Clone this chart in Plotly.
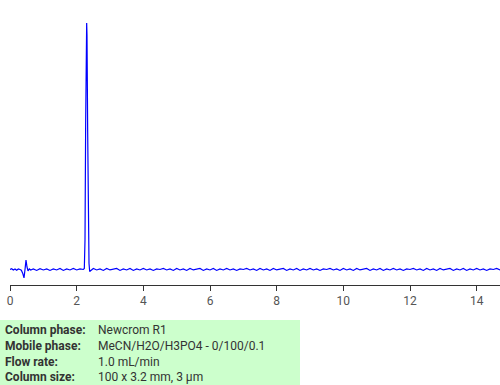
import plotly.graph_objects as go

# ---- data (retention time in min, detector signal in arbitrary units) ----
t_start = [0.00, 0.05, 0.10, 0.15, 0.20, 0.25, 0.30,
           0.34, 0.38, 0.42, 0.45, 0.48, 0.51, 0.54, 0.58, 0.62,
           0.7, 0.8, 0.9, 1.0, 1.1, 1.2, 1.3, 1.4, 1.5, 1.6, 1.7, 1.8, 1.9, 2.0, 2.1, 2.2]
y_start = [0, 3, -2, 2, -3, 2, 0,
           -3, -15, -34, 0, 38, 10, -6, 2, -2,
           2, -4, 3, -2, 2, -4, 2, -2, 4, -4, 2, -2, 4, -2, 2, 0]

t_peak = [2.23, 2.25, 2.27, 2.29, 2.30, 2.31, 2.33, 2.35, 2.37, 2.39, 2.42, 2.46]
y_peak = [4, 120, 600, 980, 1000, 950, 560, 160, 25, -8, -5, 0]

t_tail = [round(2.5 + 0.1 * i, 2) for i in range(123)]
y_tail = [4, -2, 2, -4, 4, -2, 0, 4, -4, 2, -2, 4, -4, 2, -2, 4, -2, 2, -4, 2,
          0, 4, -2, 2, -4, 4, -2, 2, -4, 4, -2, 0, 4, -4, 2, -2, 4, -4, 2, -2,
          4, -2, 2, -4, 2, 0, 4, -2, 2, -4, 4, -2, 2, -4, 4, -2, 0, 4, -4, 2,
          -2, 4, -4, 2, -2, 4, -2, 2, -4, 2, 0, 4, -2, 2, -4, 4, -2, 2, -4, 4,
          -2, 0, 4, -4, 2, -2, 4, -4, 2, -2, 4, -2, 2, -4, 2, 0, 4, -2, 2, -4,
          4, -2, 2, -4, 4, -2, 0, 4, -4, 2, -2, 4, -4, 2, -2, 4, -2, 2, -4, 2,
          0, 4, -2]

x_ticks = [0, 2, 4, 6, 8, 10, 12, 14]

info_labels = ["Column phase:", "Mobile phase:", "Flow rate:", "Column size:"]
info_values = ["Newcrom R1", "MeCN/H2O/H3PO4 - 0/100/0.1", "1.0 mL/min", "100 x 3.2 mm, 3 µm"]

# ---- figure ----
time = t_start + t_peak + t_tail
signal = y_start + y_peak + y_tail

W, H = 500, 385
ml, mr, mt, mb = 10, 0, 0, 100
pw, ph = W - ml - mr, H - mt - mb

fig = go.Figure()
fig.add_trace(go.Scatter(x=time, y=signal, mode="lines",
                         line=dict(color="#0000ff", width=1.2),
                         hoverinfo="skip", showlegend=False))

def px_to_paper_x(px):
    return (px - ml) / pw

def py_to_paper_y(py):
    return (mt + ph - py) / ph

fig.add_shape(type="rect", xref="paper", yref="paper",
              x0=px_to_paper_x(0), x1=px_to_paper_x(300),
              y0=py_to_paper_y(320), y1=py_to_paper_y(385),
              fillcolor="#ccffcc", line=dict(width=0), layer="below")

row_y = [330, 346, 361.5, 377]
for lab, val, ry in zip(info_labels, info_values, row_y):
    fig.add_annotation(xref="paper", yref="paper", x=px_to_paper_x(3), y=py_to_paper_y(ry),
                       text="<b>" + lab + "</b>", showarrow=False, xanchor="left", yanchor="middle",
                       font=dict(family="Roboto", size=12, color="#333333"))
    fig.add_annotation(xref="paper", yref="paper", x=px_to_paper_x(96), y=py_to_paper_y(ry),
                       text=val, showarrow=False, xanchor="left", yanchor="middle",
                       font=dict(family="Roboto", size=12, color="#333333"))

fig.update_layout(
    width=W, height=H,
    margin=dict(l=ml, r=mr, t=mt, b=mb, pad=0),
    paper_bgcolor="white", plot_bgcolor="white",
    font=dict(family="Roboto", size=12, color="#555555"),
    xaxis=dict(range=[0, 14.7], tickvals=x_ticks, ticktext=[str(v) for v in x_ticks],
               showgrid=False, zeroline=False, showline=True, linecolor="#333333", linewidth=1,
               ticks="outside", ticklen=5, tickcolor="#333333",
               tickfont=dict(family="Roboto", size=12, color="#555555")),
    yaxis=dict(range=[-63, 1093], visible=False, showgrid=False, zeroline=False),
)

fig.write_html("out.html", config={"displayModeBar": False})
